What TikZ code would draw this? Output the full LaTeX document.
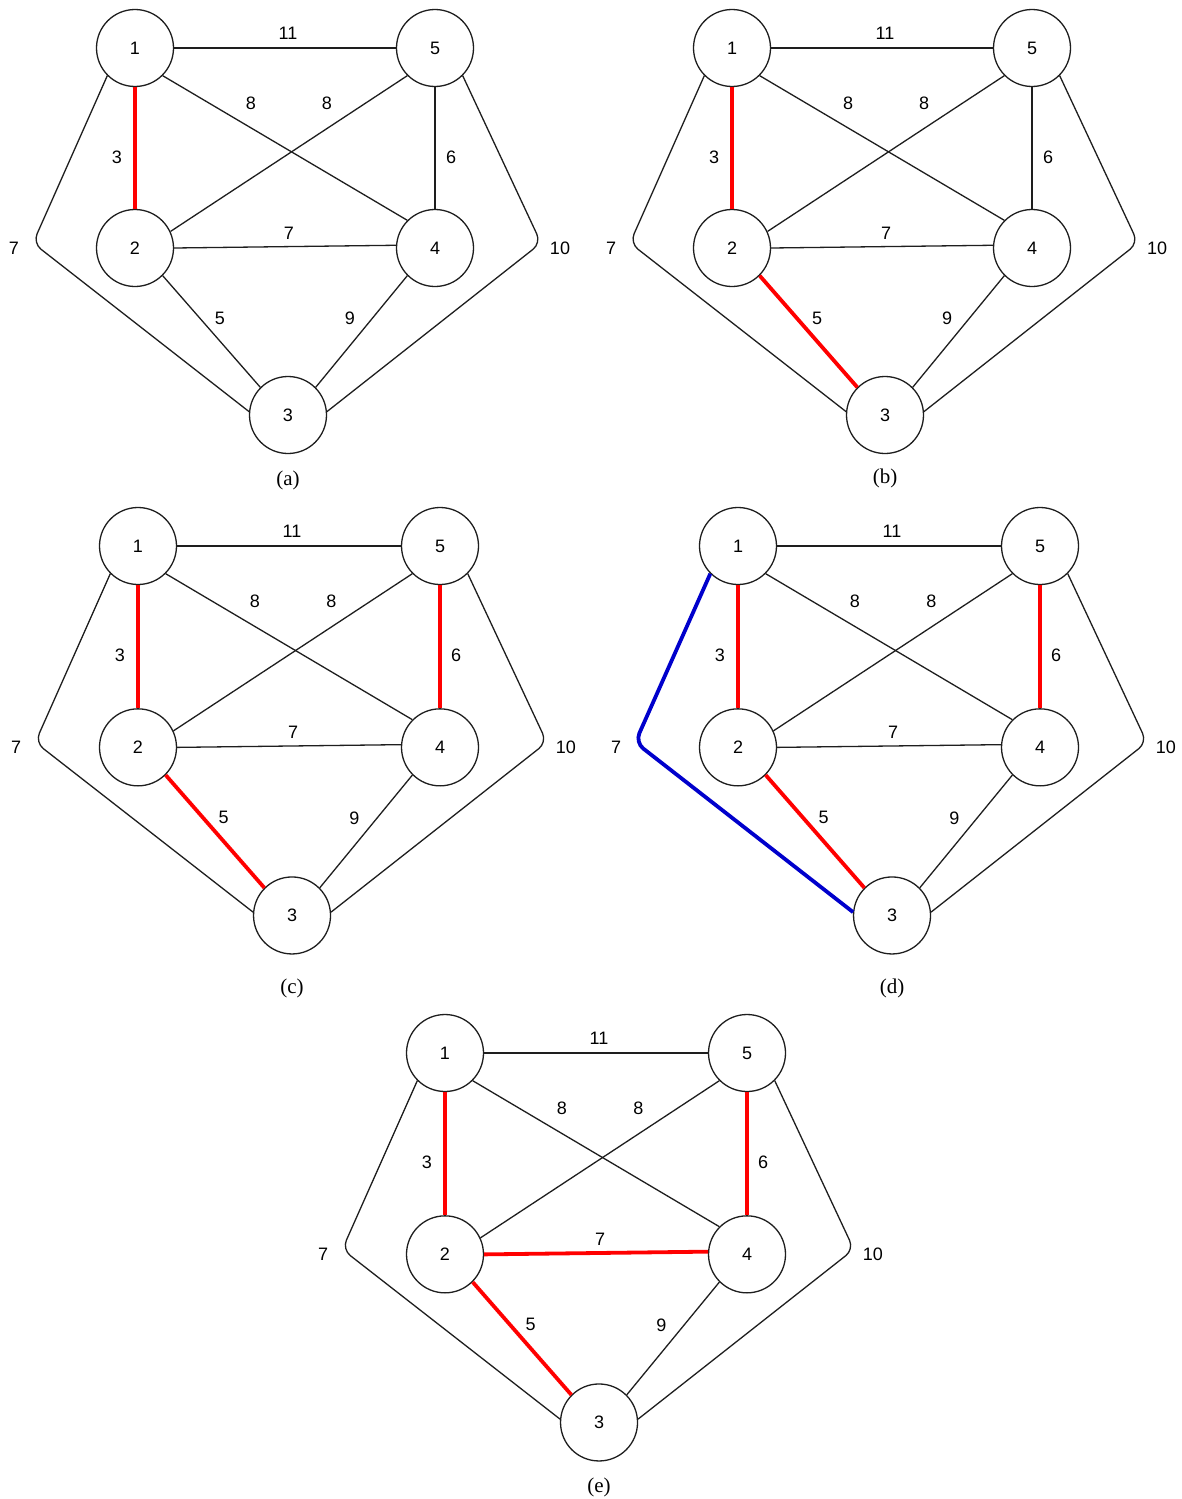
\documentclass[tikz,border=0pt]{standalone}
\usepackage{fontspec}
\setmainfont{Liberation Sans}
\newfontfamily\capfont{Liberation Serif}
\definecolor{mstred}{RGB}{255,0,0}
\definecolor{mstblue}{RGB}{0,0,204}
\definecolor{mstline}{RGB}{30,30,30}
\tikzset{
 vtx/.style={circle, draw=mstline, line width=1.3pt, minimum size=77pt, inner sep=0pt, font=\fontsize{18}{18}\selectfont},
 plainE/.style={draw=mstline, line width=1.3pt},
 redE/.style={draw=mstred, line width=3.8pt},
 blueE/.style={draw=mstblue, line width=3.8pt},
 wlab/.style={font=\fontsize{18}{18}\selectfont, inner sep=0pt},
 caplab/.style={font=\capfont\fontsize{21}{21}\selectfont, inner sep=0pt},
 e12/.style={plainE}, e23/.style={plainE}, e54/.style={plainE}, e24/.style={plainE}, e13/.style={plainE}
}
\newcommand\mstgraph[6]{%
\begin{scope}[shift={#2}, scale=#3, #6]
 \node[vtx] (#1n1) at (0,0) {1};
 \node[vtx] (#1n5) at (300,0) {5};
 \node[vtx] (#1n2) at (0,200) {2};
 \node[vtx] (#1n4) at (300,200) {4};
 \node[vtx] (#1n3) at (153,367) {3};
 \coordinate (#1bl) at (-102,195);
 \coordinate (#1br) at (406,195);
 \draw[plainE] (#1n1.east) -- (#1n5.west);
 \draw[plainE] (#1n1.-45) -- (#1n4.135);
 \draw[plainE] (#1n5.-135) -- (#1n2.25);
 \draw[plainE] (#1n4.-135) -- (#1n3.45);
 \draw[plainE, rounded corners=10pt] (#1n5.-45) -- (#1br) -- (#1n3.5);
 \draw[e12] (#1n1.south) -- (#1n2.north);
 \draw[e54] (#1n5.south) -- (#1n4.north);
 \draw[e24] (#1n2.east) -- (#1n4.176);
 \draw[e23] (#1n2.-45) -- (#1n3.135);
 \draw[e13, rounded corners=10pt] (#1n1.225) -- (#1bl) -- (#1n3.175);
 \node[wlab] (#1w15) at (153,-15) {11};
 \node[wlab] (#1w14) at (116,55) {8};
 \node[wlab] (#1w52) at (192,55) {8};
 \node[wlab] (#1w12) at (-18,109) {3};
 \node[wlab] (#1w54) at (316,109) {6};
 \node[wlab] (#1w24) at (154,185) {7};
 \node[wlab] (#1w23) at (85,270) {5};
 \node[wlab] (#1w43) at (215,270) {9};
 \node[wlab] (#1w13) at (-121,200) {7};
 \node[wlab] (#1w53) at (425,200) {10};
 \node[caplab] (#1cap) at (153,#5) {(#4)};
\end{scope}}
\begin{document}
\begin{tikzpicture}[x=1pt,y=-1pt]
\useasboundingbox[fill=white] (0,0) rectangle (1182,1499);
\mstgraph{a}{(135,48)}{1}{a}{432}{e12/.style={redE}}
\mstgraph{b}{(732,48)}{1}{b}{430}{e12/.style={redE}, e23/.style={redE}}
\mstgraph{c}{(138,546)}{1.0067}{c}{439}{e12/.style={redE}, e23/.style={redE}, e54/.style={redE}}
\mstgraph{d}{(738,546)}{1.0067}{d}{439}{e12/.style={redE}, e23/.style={redE}, e54/.style={redE}, e13/.style={blueE}}
\mstgraph{e}{(445,1053)}{1.0067}{e}{432}{e12/.style={redE}, e23/.style={redE}, e54/.style={redE}, e24/.style={redE}}
\end{tikzpicture}
\end{document}
